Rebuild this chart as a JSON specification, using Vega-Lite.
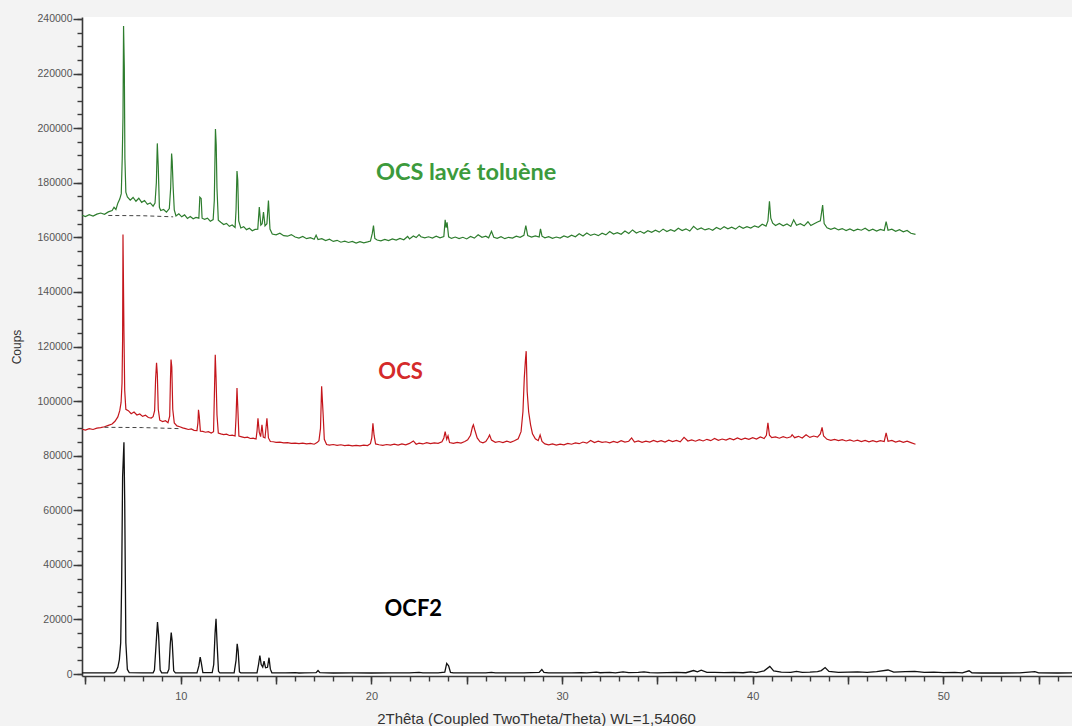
{
  "$schema": "https://vega.github.io/schema/vega-lite/v6.json",
  "width": 990,
  "height": 659,
  "autosize": "none",
  "padding": {"left": 82, "top": 17, "right": 0, "bottom": 50},
  "background": "#f3f3f3",
  "config": {"view": {"fill": "white", "stroke": null}, "font": "Liberation Sans"},
  "resolve": {"axis": {"x": "independent", "y": "independent"}},
  "datasets": {
    "g": [{"t":4.83,"c":168100},{"t":5.0,"c":167600},{"t":5.2,"c":168300},{"t":5.4,"c":167800},{"t":5.6,"c":168500},{"t":5.8,"c":168900},{"t":6.0,"c":168400},{"t":6.2,"c":169300},{"t":6.4,"c":169800},{"t":6.5,"c":171000},{"t":6.6,"c":170200},{"t":6.7,"c":172500},{"t":6.8,"c":174000},{"t":6.88,"c":176000},{"t":6.93,"c":188900},{"t":6.97,"c":204000},{"t":7.0,"c":237400},{"t":7.04,"c":222000},{"t":7.07,"c":189000},{"t":7.12,"c":176500},{"t":7.2,"c":174800},{"t":7.35,"c":173600},{"t":7.5,"c":174600},{"t":7.65,"c":173200},{"t":7.8,"c":174300},{"t":7.95,"c":172800},{"t":8.1,"c":173500},{"t":8.25,"c":172100},{"t":8.4,"c":172600},{"t":8.55,"c":171400},{"t":8.65,"c":172500},{"t":8.72,"c":180000},{"t":8.77,"c":194400},{"t":8.82,"c":185800},{"t":8.88,"c":171000},{"t":8.95,"c":169800},{"t":9.1,"c":170200},{"t":9.25,"c":169200},{"t":9.4,"c":170500},{"t":9.47,"c":178000},{"t":9.52,"c":190700},{"t":9.55,"c":188000},{"t":9.6,"c":178500},{"t":9.66,"c":170000},{"t":9.75,"c":167800},{"t":9.9,"c":168600},{"t":10.05,"c":167500},{"t":10.2,"c":168200},{"t":10.35,"c":166900},{"t":10.5,"c":167600},{"t":10.65,"c":166800},{"t":10.8,"c":167300},{"t":10.95,"c":167000},{"t":11.0,"c":174700},{"t":11.07,"c":174200},{"t":11.12,"c":167000},{"t":11.25,"c":166600},{"t":11.4,"c":167000},{"t":11.55,"c":165900},{"t":11.7,"c":166500},{"t":11.76,"c":173500},{"t":11.82,"c":199700},{"t":11.86,"c":194000},{"t":11.9,"c":178000},{"t":11.97,"c":166300},{"t":12.1,"c":165500},{"t":12.25,"c":164700},{"t":12.4,"c":165100},{"t":12.55,"c":164000},{"t":12.7,"c":164500},{"t":12.85,"c":163600},{"t":12.9,"c":170000},{"t":12.95,"c":184300},{"t":12.99,"c":181000},{"t":13.04,"c":166000},{"t":13.15,"c":163400},{"t":13.3,"c":163900},{"t":13.45,"c":162800},{"t":13.6,"c":163300},{"t":13.75,"c":162400},{"t":13.9,"c":162900},{"t":14.04,"c":163000},{"t":14.12,"c":171100},{"t":14.2,"c":164500},{"t":14.27,"c":165000},{"t":14.34,"c":169200},{"t":14.42,"c":164200},{"t":14.52,"c":165000},{"t":14.6,"c":173500},{"t":14.68,"c":163000},{"t":14.8,"c":161200},{"t":15.0,"c":160900},{"t":15.2,"c":161500},{"t":15.4,"c":160600},{"t":15.6,"c":160400},{"t":15.8,"c":161000},{"t":16.0,"c":160100},{"t":16.2,"c":159700},{"t":16.4,"c":160300},{"t":16.6,"c":159500},{"t":16.8,"c":159900},{"t":17.0,"c":159300},{"t":17.1,"c":160800},{"t":17.2,"c":159200},{"t":17.4,"c":159500},{"t":17.6,"c":158800},{"t":17.8,"c":159300},{"t":18.0,"c":158500},{"t":18.2,"c":158900},{"t":18.4,"c":158200},{"t":18.6,"c":158600},{"t":18.8,"c":158100},{"t":19.0,"c":158500},{"t":19.2,"c":157900},{"t":19.4,"c":158400},{"t":19.6,"c":158000},{"t":19.8,"c":158300},{"t":19.95,"c":158600},{"t":20.05,"c":161500},{"t":20.11,"c":164300},{"t":20.18,"c":159600},{"t":20.3,"c":159000},{"t":20.5,"c":158700},{"t":20.7,"c":159200},{"t":20.9,"c":158800},{"t":21.1,"c":159400},{"t":21.3,"c":159000},{"t":21.5,"c":159600},{"t":21.7,"c":159100},{"t":21.9,"c":160300},{"t":22.0,"c":159400},{"t":22.2,"c":160500},{"t":22.35,"c":159900},{"t":22.5,"c":161000},{"t":22.6,"c":160200},{"t":22.8,"c":159800},{"t":23.0,"c":160200},{"t":23.2,"c":159700},{"t":23.4,"c":160400},{"t":23.6,"c":159800},{"t":23.8,"c":160300},{"t":23.87,"c":166400},{"t":23.92,"c":163500},{"t":23.97,"c":165500},{"t":24.05,"c":160200},{"t":24.2,"c":159600},{"t":24.4,"c":160100},{"t":24.6,"c":159500},{"t":24.8,"c":160000},{"t":25.0,"c":159400},{"t":25.2,"c":160300},{"t":25.4,"c":159700},{"t":25.6,"c":160900},{"t":25.8,"c":160000},{"t":26.0,"c":160400},{"t":26.15,"c":159800},{"t":26.3,"c":162200},{"t":26.42,"c":160000},{"t":26.6,"c":159600},{"t":26.8,"c":160200},{"t":27.0,"c":159500},{"t":27.2,"c":160000},{"t":27.4,"c":159700},{"t":27.6,"c":160400},{"t":27.8,"c":160000},{"t":28.0,"c":160700},{"t":28.1,"c":164300},{"t":28.2,"c":160600},{"t":28.4,"c":160100},{"t":28.6,"c":160500},{"t":28.8,"c":160100},{"t":28.87,"c":163100},{"t":28.95,"c":160400},{"t":29.1,"c":159800},{"t":29.3,"c":160200},{"t":29.5,"c":159600},{"t":29.7,"c":160100},{"t":29.9,"c":159700},{"t":30.1,"c":160500},{"t":30.3,"c":160000},{"t":30.5,"c":160800},{"t":30.7,"c":160200},{"t":30.9,"c":161300},{"t":31.1,"c":160500},{"t":31.3,"c":161600},{"t":31.5,"c":160700},{"t":31.7,"c":161200},{"t":31.9,"c":160600},{"t":32.1,"c":161500},{"t":32.3,"c":160900},{"t":32.5,"c":162100},{"t":32.7,"c":161200},{"t":32.9,"c":161700},{"t":33.1,"c":161100},{"t":33.3,"c":162300},{"t":33.5,"c":161400},{"t":33.7,"c":162700},{"t":33.9,"c":161600},{"t":34.1,"c":162200},{"t":34.3,"c":161500},{"t":34.5,"c":162400},{"t":34.7,"c":161800},{"t":34.9,"c":162600},{"t":35.1,"c":161900},{"t":35.3,"c":163000},{"t":35.5,"c":162100},{"t":35.7,"c":162800},{"t":35.9,"c":162200},{"t":36.1,"c":163300},{"t":36.3,"c":162500},{"t":36.5,"c":163100},{"t":36.7,"c":162300},{"t":36.9,"c":164000},{"t":37.1,"c":162800},{"t":37.3,"c":163400},{"t":37.5,"c":162700},{"t":37.7,"c":163200},{"t":37.9,"c":162600},{"t":38.1,"c":163600},{"t":38.3,"c":162900},{"t":38.5,"c":163900},{"t":38.7,"c":163100},{"t":38.9,"c":163700},{"t":39.1,"c":163000},{"t":39.3,"c":164100},{"t":39.5,"c":163300},{"t":39.7,"c":163900},{"t":39.9,"c":163400},{"t":40.1,"c":164200},{"t":40.3,"c":163700},{"t":40.5,"c":164800},{"t":40.7,"c":164100},{"t":40.8,"c":166000},{"t":40.88,"c":173200},{"t":40.95,"c":167000},{"t":41.05,"c":165200},{"t":41.2,"c":164300},{"t":41.4,"c":165100},{"t":41.6,"c":164200},{"t":41.8,"c":164900},{"t":42.0,"c":164000},{"t":42.15,"c":166400},{"t":42.3,"c":164400},{"t":42.5,"c":165000},{"t":42.7,"c":164200},{"t":42.9,"c":165700},{"t":43.05,"c":164300},{"t":43.2,"c":164900},{"t":43.4,"c":165600},{"t":43.55,"c":166000},{"t":43.67,"c":171800},{"t":43.75,"c":165000},{"t":43.9,"c":163500},{"t":44.1,"c":162900},{"t":44.3,"c":163400},{"t":44.5,"c":162700},{"t":44.7,"c":163200},{"t":44.9,"c":162500},{"t":45.1,"c":163100},{"t":45.3,"c":162400},{"t":45.5,"c":163000},{"t":45.7,"c":162600},{"t":45.9,"c":163300},{"t":46.1,"c":162400},{"t":46.3,"c":163000},{"t":46.5,"c":162300},{"t":46.7,"c":162900},{"t":46.9,"c":162500},{"t":47.0,"c":165700},{"t":47.1,"c":162600},{"t":47.3,"c":163000},{"t":47.5,"c":162200},{"t":47.7,"c":162800},{"t":47.9,"c":162000},{"t":48.1,"c":162500},{"t":48.3,"c":161500},{"t":48.54,"c":161100}],
    "r": [{"t":4.83,"c":89700},{"t":5.0,"c":89400},{"t":5.2,"c":89900},{"t":5.4,"c":89600},{"t":5.6,"c":90100},{"t":5.8,"c":90300},{"t":6.0,"c":90600},{"t":6.2,"c":91100},{"t":6.4,"c":91600},{"t":6.55,"c":92600},{"t":6.7,"c":94200},{"t":6.8,"c":96500},{"t":6.87,"c":99500},{"t":6.92,"c":106600},{"t":6.95,"c":122600},{"t":6.97,"c":161000},{"t":7.02,"c":125700},{"t":7.06,"c":104000},{"t":7.12,"c":97000},{"t":7.25,"c":96500},{"t":7.4,"c":95400},{"t":7.55,"c":96000},{"t":7.7,"c":94900},{"t":7.85,"c":95300},{"t":8.0,"c":94400},{"t":8.15,"c":94800},{"t":8.3,"c":94000},{"t":8.45,"c":93800},{"t":8.55,"c":94300},{"t":8.63,"c":96500},{"t":8.68,"c":108000},{"t":8.73,"c":114000},{"t":8.77,"c":110000},{"t":8.82,"c":97000},{"t":8.9,"c":93000},{"t":9.05,"c":92500},{"t":9.2,"c":92800},{"t":9.33,"c":92100},{"t":9.42,"c":94500},{"t":9.46,"c":108000},{"t":9.49,"c":115200},{"t":9.53,"c":112500},{"t":9.58,"c":97000},{"t":9.66,"c":92000},{"t":9.8,"c":90900},{"t":9.95,"c":90600},{"t":10.1,"c":90200},{"t":10.25,"c":89900},{"t":10.4,"c":89600},{"t":10.55,"c":89800},{"t":10.7,"c":89300},{"t":10.85,"c":89200},{"t":10.9,"c":92000},{"t":10.93,"c":96800},{"t":10.97,"c":94500},{"t":11.03,"c":89000},{"t":11.15,"c":88900},{"t":11.3,"c":88600},{"t":11.45,"c":88800},{"t":11.6,"c":88300},{"t":11.72,"c":88800},{"t":11.76,"c":101000},{"t":11.81,"c":117000},{"t":11.85,"c":109000},{"t":11.9,"c":95000},{"t":11.97,"c":88300},{"t":12.1,"c":88000},{"t":12.25,"c":87700},{"t":12.4,"c":87900},{"t":12.55,"c":87400},{"t":12.7,"c":87500},{"t":12.85,"c":87200},{"t":12.9,"c":94000},{"t":12.95,"c":104800},{"t":12.99,"c":98000},{"t":13.05,"c":87200},{"t":13.2,"c":86900},{"t":13.35,"c":86600},{"t":13.5,"c":86800},{"t":13.65,"c":86300},{"t":13.8,"c":86400},{"t":13.95,"c":86100},{"t":14.0,"c":89000},{"t":14.05,"c":93700},{"t":14.12,"c":88500},{"t":14.19,"c":87000},{"t":14.26,"c":91300},{"t":14.33,"c":86800},{"t":14.42,"c":86500},{"t":14.52,"c":93700},{"t":14.6,"c":86500},{"t":14.7,"c":85200},{"t":14.85,"c":85100},{"t":15.0,"c":84900},{"t":15.2,"c":85000},{"t":15.4,"c":84700},{"t":15.6,"c":84800},{"t":15.8,"c":84500},{"t":16.0,"c":84600},{"t":16.2,"c":84400},{"t":16.4,"c":84600},{"t":16.6,"c":84300},{"t":16.8,"c":84500},{"t":17.0,"c":84200},{"t":17.15,"c":84800},{"t":17.25,"c":85500},{"t":17.33,"c":90000},{"t":17.39,"c":105400},{"t":17.47,"c":95000},{"t":17.53,"c":86000},{"t":17.65,"c":84100},{"t":17.8,"c":83900},{"t":18.0,"c":84100},{"t":18.2,"c":83800},{"t":18.4,"c":84000},{"t":18.6,"c":83700},{"t":18.8,"c":83900},{"t":19.0,"c":83600},{"t":19.2,"c":83800},{"t":19.4,"c":83600},{"t":19.6,"c":83900},{"t":19.8,"c":83700},{"t":19.95,"c":84400},{"t":20.02,"c":86500},{"t":20.08,"c":91900},{"t":20.14,"c":87500},{"t":20.22,"c":84300},{"t":20.4,"c":84000},{"t":20.6,"c":83800},{"t":20.8,"c":84100},{"t":21.0,"c":83900},{"t":21.2,"c":84200},{"t":21.4,"c":83900},{"t":21.6,"c":84300},{"t":21.8,"c":84000},{"t":22.0,"c":84500},{"t":22.2,"c":85400},{"t":22.35,"c":84200},{"t":22.5,"c":84600},{"t":22.7,"c":84300},{"t":22.9,"c":84800},{"t":23.1,"c":84400},{"t":23.3,"c":84700},{"t":23.5,"c":84500},{"t":23.7,"c":85100},{"t":23.8,"c":86500},{"t":23.87,"c":88800},{"t":23.95,"c":86000},{"t":24.02,"c":87300},{"t":24.1,"c":84800},{"t":24.3,"c":84500},{"t":24.5,"c":84900},{"t":24.7,"c":84600},{"t":24.9,"c":85200},{"t":25.05,"c":85800},{"t":25.2,"c":87500},{"t":25.3,"c":90500},{"t":25.35,"c":91300},{"t":25.42,"c":89500},{"t":25.55,"c":86500},{"t":25.7,"c":85100},{"t":25.85,"c":84700},{"t":26.0,"c":85200},{"t":26.12,"c":86500},{"t":26.2,"c":87600},{"t":26.3,"c":85700},{"t":26.5,"c":84900},{"t":26.7,"c":85200},{"t":26.9,"c":84800},{"t":27.1,"c":85300},{"t":27.3,"c":84900},{"t":27.5,"c":85500},{"t":27.7,"c":86200},{"t":27.85,"c":88800},{"t":27.95,"c":96200},{"t":28.02,"c":108500},{"t":28.08,"c":115000},{"t":28.12,"c":118300},{"t":28.17,"c":103600},{"t":28.25,"c":96000},{"t":28.35,"c":91300},{"t":28.45,"c":88000},{"t":28.6,"c":86200},{"t":28.75,"c":85500},{"t":28.85,"c":87600},{"t":28.95,"c":85200},{"t":29.1,"c":84300},{"t":29.3,"c":84000},{"t":29.5,"c":84300},{"t":29.7,"c":83900},{"t":29.9,"c":84200},{"t":30.1,"c":84000},{"t":30.3,"c":84500},{"t":30.5,"c":84200},{"t":30.7,"c":84700},{"t":30.9,"c":84400},{"t":31.1,"c":85000},{"t":31.3,"c":84600},{"t":31.5,"c":85600},{"t":31.7,"c":84800},{"t":31.9,"c":85300},{"t":32.1,"c":84900},{"t":32.3,"c":85100},{"t":32.5,"c":84700},{"t":32.7,"c":85200},{"t":32.9,"c":84800},{"t":33.1,"c":85500},{"t":33.3,"c":85000},{"t":33.5,"c":85300},{"t":33.65,"c":86500},{"t":33.8,"c":85000},{"t":34.0,"c":85400},{"t":34.2,"c":84900},{"t":34.4,"c":85300},{"t":34.6,"c":85000},{"t":34.8,"c":85600},{"t":35.0,"c":85100},{"t":35.2,"c":85500},{"t":35.4,"c":85000},{"t":35.6,"c":85700},{"t":35.8,"c":85200},{"t":36.0,"c":85600},{"t":36.2,"c":85100},{"t":36.4,"c":86700},{"t":36.6,"c":85400},{"t":36.8,"c":85800},{"t":37.0,"c":85300},{"t":37.2,"c":85900},{"t":37.4,"c":85400},{"t":37.6,"c":86000},{"t":37.8,"c":85500},{"t":38.0,"c":86300},{"t":38.2,"c":85600},{"t":38.4,"c":86100},{"t":38.6,"c":85700},{"t":38.8,"c":86300},{"t":39.0,"c":85800},{"t":39.2,"c":86500},{"t":39.4,"c":85900},{"t":39.6,"c":86400},{"t":39.8,"c":86000},{"t":40.0,"c":86600},{"t":40.2,"c":86100},{"t":40.4,"c":86900},{"t":40.6,"c":86300},{"t":40.72,"c":87500},{"t":40.8,"c":92000},{"t":40.88,"c":87500},{"t":41.0,"c":86600},{"t":41.2,"c":86900},{"t":41.4,"c":86400},{"t":41.6,"c":87000},{"t":41.8,"c":86500},{"t":42.0,"c":86900},{"t":42.07,"c":87700},{"t":42.2,"c":86600},{"t":42.4,"c":87100},{"t":42.6,"c":86500},{"t":42.8,"c":87700},{"t":43.0,"c":86700},{"t":43.2,"c":87200},{"t":43.4,"c":86800},{"t":43.55,"c":88000},{"t":43.64,"c":90400},{"t":43.72,"c":87200},{"t":43.9,"c":86000},{"t":44.1,"c":85600},{"t":44.3,"c":86000},{"t":44.5,"c":85500},{"t":44.7,"c":85900},{"t":44.9,"c":85400},{"t":45.1,"c":85800},{"t":45.3,"c":85300},{"t":45.5,"c":85700},{"t":45.7,"c":85200},{"t":45.9,"c":85600},{"t":46.1,"c":85100},{"t":46.3,"c":85500},{"t":46.5,"c":85100},{"t":46.7,"c":85500},{"t":46.9,"c":85200},{"t":47.0,"c":88400},{"t":47.1,"c":85300},{"t":47.3,"c":85600},{"t":47.5,"c":85000},{"t":47.7,"c":85400},{"t":47.9,"c":84900},{"t":48.1,"c":85300},{"t":48.3,"c":84800},{"t":48.54,"c":84200}],
    "b": [{"t":4.83,"c":450},{"t":5.5,"c":420},{"t":6.2,"c":430},{"t":6.5,"c":480},{"t":6.6,"c":900},{"t":6.7,"c":2500},{"t":6.78,"c":5300},{"t":6.85,"c":11500},{"t":6.9,"c":33600},{"t":6.95,"c":72300},{"t":7.02,"c":84900},{"t":7.06,"c":63600},{"t":7.12,"c":11500},{"t":7.2,"c":1700},{"t":7.3,"c":500},{"t":8.0,"c":450},{"t":8.55,"c":450},{"t":8.62,"c":1500},{"t":8.7,"c":10200},{"t":8.78,"c":19100},{"t":8.84,"c":14000},{"t":8.92,"c":1500},{"t":9.0,"c":450},{"t":9.3,"c":450},{"t":9.38,"c":1800},{"t":9.45,"c":11000},{"t":9.5,"c":15200},{"t":9.55,"c":12000},{"t":9.63,"c":1200},{"t":9.72,"c":450},{"t":10.85,"c":450},{"t":10.95,"c":3000},{"t":11.02,"c":6200},{"t":11.08,"c":4000},{"t":11.16,"c":500},{"t":11.65,"c":500},{"t":11.73,"c":3500},{"t":11.8,"c":15000},{"t":11.85,"c":20300},{"t":11.9,"c":12000},{"t":11.98,"c":1000},{"t":12.05,"c":450},{"t":12.8,"c":450},{"t":12.9,"c":5000},{"t":12.96,"c":11100},{"t":13.01,"c":8500},{"t":13.08,"c":800},{"t":13.15,"c":450},{"t":14.0,"c":450},{"t":14.08,"c":3500},{"t":14.15,"c":6800},{"t":14.22,"c":3500},{"t":14.3,"c":2600},{"t":14.37,"c":4700},{"t":14.45,"c":2300},{"t":14.55,"c":2500},{"t":14.63,"c":6000},{"t":14.7,"c":1800},{"t":14.78,"c":450},{"t":15.5,"c":420},{"t":16.0,"c":500},{"t":16.2,"c":400},{"t":16.5,"c":450},{"t":17.1,"c":500},{"t":17.2,"c":1300},{"t":17.3,"c":500},{"t":18.0,"c":400},{"t":19.0,"c":430},{"t":20.0,"c":400},{"t":21.0,"c":450},{"t":22.0,"c":420},{"t":22.5,"c":600},{"t":22.7,"c":420},{"t":23.0,"c":470},{"t":23.5,"c":420},{"t":23.85,"c":700},{"t":23.95,"c":3900},{"t":24.05,"c":3000},{"t":24.15,"c":600},{"t":24.3,"c":420},{"t":25.0,"c":450},{"t":25.5,"c":420},{"t":26.0,"c":480},{"t":26.3,"c":650},{"t":26.5,"c":420},{"t":27.0,"c":430},{"t":27.6,"c":480},{"t":28.0,"c":420},{"t":28.8,"c":600},{"t":28.94,"c":1700},{"t":29.05,"c":600},{"t":29.3,"c":420},{"t":30.0,"c":450},{"t":30.5,"c":420},{"t":31.0,"c":550},{"t":31.3,"c":420},{"t":31.8,"c":700},{"t":32.0,"c":500},{"t":32.5,"c":650},{"t":32.8,"c":450},{"t":33.2,"c":800},{"t":33.5,"c":550},{"t":34.0,"c":600},{"t":34.3,"c":800},{"t":34.6,"c":500},{"t":35.0,"c":450},{"t":35.5,"c":500},{"t":36.0,"c":600},{"t":36.5,"c":500},{"t":36.9,"c":1300},{"t":37.1,"c":800},{"t":37.3,"c":1400},{"t":37.6,"c":600},{"t":38.0,"c":650},{"t":38.5,"c":550},{"t":39.0,"c":600},{"t":39.5,"c":500},{"t":39.9,"c":800},{"t":40.2,"c":550},{"t":40.6,"c":1200},{"t":40.9,"c":2800},{"t":41.1,"c":1200},{"t":41.5,"c":700},{"t":42.0,"c":650},{"t":42.3,"c":1000},{"t":42.6,"c":600},{"t":43.0,"c":700},{"t":43.4,"c":900},{"t":43.6,"c":1300},{"t":43.8,"c":2400},{"t":44.0,"c":1000},{"t":44.5,"c":650},{"t":45.0,"c":700},{"t":45.5,"c":800},{"t":46.0,"c":600},{"t":46.5,"c":900},{"t":47.1,"c":1500},{"t":47.4,"c":700},{"t":48.0,"c":900},{"t":48.5,"c":1000},{"t":49.0,"c":600},{"t":49.5,"c":700},{"t":50.0,"c":500},{"t":50.6,"c":650},{"t":51.0,"c":450},{"t":51.35,"c":1200},{"t":51.5,"c":450},{"t":52.0,"c":400},{"t":53.0,"c":400},{"t":54.0,"c":420},{"t":54.8,"c":900},{"t":55.0,"c":420},{"t":56.0,"c":400},{"t":56.75,"c":420}],
    "bg": [{"s":"lav","t":6.2,"c":168000},{"s":"lav","t":8.0,"c":167900},{"s":"lav","t":9.6,"c":167500},{"s":"ocs","t":6.0,"c":90400},{"s":"ocs","t":8.0,"c":90300},{"s":"ocs","t":10.0,"c":89900}],
    "lab": [{"k":"lav","txt":"OCS lavé toluène","t":24.97,"c":183600},{"k":"ocs","txt":"OCS","t":21.53,"c":110500},{"k":"ocf2","txt":"OCF2","t":22.2,"c":24000}]
  },
  "layer": [
    {
      "data": {"name": "g"},
      "mark": {"type": "line", "color": "#2e7d2e", "strokeWidth": 1.2},
      "encoding": {
        "x": {
          "field": "t", "type": "quantitative",
          "scale": {"domain": [4.82, 56.75], "nice": false, "zero": false},
          "axis": {
            "orient": "bottom",
            "title": "2Thêta (Coupled TwoTheta/Theta) WL=1,54060",
            "titleFont": "Liberation Sans", "titleFontSize": 15, "titleFontWeight": "normal", "titleColor": "#333",
            "titleX": 454, "titleY": 42, "titleAlign": "center", "titleBaseline": "middle",
            "values": [5, 10, 15, 20, 25, 30, 35, 40, 45, 50, 55],
            "labelExpr": "datum.value % 10 === 0 ? datum.label : ''",
            "labelOverlap": false, "labelFontSize": 11, "labelColor": "#555", "labelPadding": 6,
            "ticks": true, "tickSize": 8, "tickWidth": 1.5, "tickColor": "#3a3a3a",
            "domainColor": "#3a3a3a", "domainWidth": 1.6, "grid": false
          }
        },
        "y": {
          "field": "c", "type": "quantitative",
          "scale": {"domain": [-700, 240700], "nice": false, "zero": false},
          "axis": {
            "orient": "left",
            "title": "Coups",
            "titleFont": "Liberation Sans", "titleFontSize": 12, "titleFontWeight": "normal", "titleColor": "#333",
            "titlePadding": 13,
            "values": [0, 20000, 40000, 60000, 80000, 100000, 120000, 140000, 160000, 180000, 200000, 220000, 240000],
            "format": "d",
            "labelOverlap": false, "labelFontSize": 10.5, "labelColor": "#555", "labelPadding": 1,
            "ticks": true, "tickSize": 9, "tickWidth": 1.5, "tickColor": "#3a3a3a",
            "domainColor": "#3a3a3a", "domainWidth": 1.6, "grid": false
          }
        }
      }
    },
    {
      "data": {"name": "bg"},
      "mark": {"type": "line", "opacity": 0},
      "encoding": {
        "detail": {"field": "s"},
        "x": {
          "field": "t", "type": "quantitative",
          "scale": {"domain": [4.82, 56.75], "nice": false, "zero": false},
          "axis": {"orient": "bottom", "title": null, "labels": false, "domain": false, "grid": false, "ticks": true, "tickSize": 5, "tickWidth": 1.4, "tickColor": "#3a3a3a",
            "values": [5,6,7,8,9,10,11,12,13,14,15,16,17,18,19,20,21,22,23,24,25,26,27,28,29,30,31,32,33,34,35,36,37,38,39,40,41,42,43,44,45,46,47,48,49,50,51,52,53,54,55,56]}
        },
        "y": {
          "field": "c", "type": "quantitative",
          "scale": {"domain": [-700, 240700], "nice": false, "zero": false},
          "axis": {"orient": "left", "title": null, "labels": false, "domain": false, "grid": false, "ticks": true, "tickSize": 5, "tickWidth": 1.4, "tickColor": "#3a3a3a",
            "values": [0,5000,10000,15000,20000,25000,30000,35000,40000,45000,50000,55000,60000,65000,70000,75000,80000,85000,90000,95000,100000,105000,110000,115000,120000,125000,130000,135000,140000,145000,150000,155000,160000,165000,170000,175000,180000,185000,190000,195000,200000,205000,210000,215000,220000,225000,230000,235000,240000]}
        }
      }
    },
    {
      "data": {"name": "r"},
      "mark": {"type": "line", "color": "#c4161c", "strokeWidth": 1.2},
      "encoding": {"x": {"field": "t", "type": "quantitative", "axis": null}, "y": {"field": "c", "type": "quantitative", "axis": null}}
    },
    {
      "data": {"name": "b"},
      "mark": {"type": "line", "color": "#111111", "strokeWidth": 1.3},
      "encoding": {"x": {"field": "t", "type": "quantitative", "axis": null}, "y": {"field": "c", "type": "quantitative", "axis": null}}
    },
    {
      "data": {"name": "bg"},
      "mark": {"type": "line", "color": "#444", "strokeWidth": 1, "strokeDash": [4, 3]},
      "encoding": {"detail": {"field": "s"}, "x": {"field": "t", "type": "quantitative", "axis": null}, "y": {"field": "c", "type": "quantitative", "axis": null}}
    },
    {
      "data": {"name": "lab"},
      "transform": [{"filter": "datum.k === 'lav'"}],
      "mark": {"type": "text", "font": "Lato", "fontWeight": "bold", "fontSize": 23.5, "align": "center", "baseline": "middle", "color": "#3c9a3c"},
      "encoding": {"text": {"field": "txt"}, "x": {"field": "t", "type": "quantitative", "axis": null}, "y": {"field": "c", "type": "quantitative", "axis": null}}
    },
    {
      "data": {"name": "lab"},
      "transform": [{"filter": "datum.k === 'ocs'"}],
      "mark": {"type": "text", "font": "Lato", "fontWeight": "bold", "fontSize": 22, "align": "center", "baseline": "middle", "color": "#d42a2a"},
      "encoding": {"text": {"field": "txt"}, "x": {"field": "t", "type": "quantitative", "axis": null}, "y": {"field": "c", "type": "quantitative", "axis": null}}
    },
    {
      "data": {"name": "lab"},
      "transform": [{"filter": "datum.k === 'ocf2'"}],
      "mark": {"type": "text", "font": "Lato", "fontWeight": "bold", "fontSize": 22, "align": "center", "baseline": "middle", "color": "#000000"},
      "encoding": {"text": {"field": "txt"}, "x": {"field": "t", "type": "quantitative", "axis": null}, "y": {"field": "c", "type": "quantitative", "axis": null}}
    }
  ]
}
